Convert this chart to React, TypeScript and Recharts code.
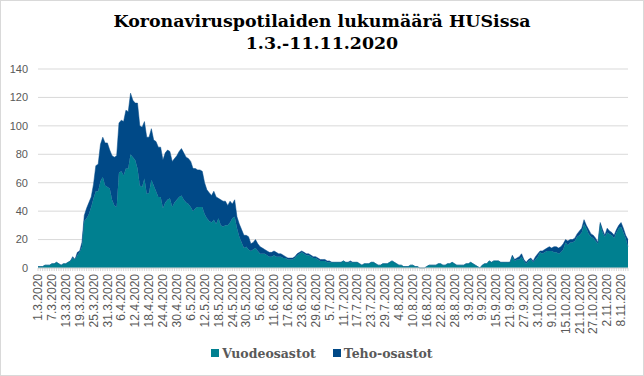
import { AreaChart, Area, XAxis, YAxis, CartesianGrid, Legend } from 'recharts'

// päivät 1.3.2020 - 11.11.2020
const dates: string[] = Array.from({ length: 256 }, (_, i) => {
  const d = new Date(2020, 2, 1 + i)
  return `${d.getDate()}.${d.getMonth() + 1}.2020`
})

const vuodeosastot = [
  1, 1, 1, 2, 2, 2, 3, 3, 4, 3,
  2, 3, 3, 4, 5, 7, 6, 9, 11, 15,
  33, 35, 38, 43, 49, 54, 54, 61, 64, 58,
  57, 56, 48, 44, 43, 67, 68, 65, 70, 70,
  80, 78, 76, 70, 58, 57, 63, 52, 53, 62,
  58, 54, 50, 50, 42, 46, 48, 49, 43, 46,
  48, 50, 51, 48, 46, 45, 43, 40, 42, 43,
  43, 43, 38, 35, 33, 32, 34, 31, 35, 30,
  29, 30, 30, 32, 35, 36, 28, 22, 18, 14,
  15, 13, 12, 13, 14, 12, 10, 10, 10, 9,
  8, 8, 9, 8, 8, 8, 7, 7, 6, 6,
  6, 7, 9, 10, 11, 10, 9, 9, 8, 7,
  7, 6, 5, 5, 5, 4, 4, 4, 4, 4,
  4, 4, 5, 4, 4, 4, 4, 4, 4, 3,
  2, 3, 3, 3, 4, 4, 3, 2, 2, 3,
  3, 3, 4, 5, 4, 3, 2, 2, 1, 1,
  1, 2, 2, 1, 1, 0, 0, 0, 1, 2,
  2, 2, 2, 3, 3, 2, 2, 3, 3, 4,
  3, 2, 2, 2, 2, 3, 3, 4, 3, 2,
  1, 0, 2, 3, 3, 5, 4, 5, 5, 5,
  4, 4, 4, 4, 4, 8, 5, 6, 6, 8,
  5, 3, 5, 6, 4, 6, 8, 11, 10, 11,
  12, 12, 12, 11, 11, 10, 11, 13, 18, 16,
  18, 18, 19, 22, 23, 25, 31, 28, 24, 22,
  21, 19, 17, 31, 25, 22, 25, 24, 23, 21,
  25, 28, 29, 25, 21, 15,
]

const tehoosastot = [
  0, 0, 0, 0, 0, 0, 0, 0, 0, 0,
  0, 0, 0, 0, 0, 1, 0, 2, 1, 3,
  4, 7, 8, 7, 10, 18, 19, 26, 28, 30,
  31, 27, 31, 34, 36, 35, 36, 38, 41, 40,
  43, 40, 40, 46, 42, 42, 40, 40, 39, 36,
  32, 35, 35, 35, 34, 35, 35, 33, 32, 31,
  31, 32, 33, 33, 32, 32, 32, 30, 28, 26,
  26, 25, 22, 20, 20, 19, 20, 19, 14, 18,
  18, 17, 14, 15, 10, 12, 8, 9, 9, 9,
  8, 9, 5, 5, 6, 5, 5, 4, 3, 3,
  3, 3, 3, 3, 2, 2, 2, 1, 1, 1,
  1, 1, 1, 1, 1, 1, 1, 1, 1, 1,
  1, 1, 1, 1, 1, 1, 1, 0, 0, 0,
  0, 0, 0, 0, 0, 1, 0, 0, 0, 0,
  0, 0, 0, 0, 0, 0, 0, 0, 0, 0,
  0, 0, 0, 0, 0, 0, 0, 0, 0, 0,
  0, 0, 0, 0, 0, 0, 0, 0, 0, 0,
  0, 0, 0, 0, 0, 0, 0, 0, 0, 0,
  0, 0, 0, 0, 0, 0, 0, 0, 0, 0,
  0, 0, 0, 0, 0, 0, 0, 0, 0, 0,
  0, 0, 0, 0, 0, 1, 1, 1, 2, 2,
  1, 1, 1, 1, 1, 2, 2, 1, 2, 2,
  2, 3, 2, 4, 4, 4, 4, 4, 2, 3,
  2, 2, 2, 2, 3, 3, 3, 2, 3, 2,
  2, 2, 1, 1, 2, 1, 3, 2, 2, 2,
  2, 2, 3, 3, 2, 5,
]

const yTicks = [0, 20, 40, 60, 80, 100, 120, 140]

const legendItems = [
  { color: '#008090', label: 'Vuodeosastot' },
  { color: '#004987', label: 'Teho-osastot' },
]

const data = dates.map((date, i) => ({
  date,
  vuodeosastot: vuodeosastot[i],
  tehoosastot: tehoosastot[i],
}))

// joka päivälle pieni tikki, joka kuudennelle päivälle teksti
function DayTick(props: any) {
  const { x, y, index, payload } = props
  return (
    <g>
      <line x1={x} x2={x} y1={y} y2={y + 3} stroke="#bfbfbf" strokeWidth={0.6} />
      {index % 6 === 0 && (
        <text
          x={x}
          y={y + 6}
          dy="0.35em"
          textAnchor="end"
          transform={`rotate(-90, ${x}, ${y + 6})`}
          fontSize={12}
          fontFamily="Liberation Sans"
          fill="#595959"
        >
          {payload.value}
        </text>
      )}
    </g>
  )
}

function LegendContent() {
  return (
    <div
      style={{
        height: 30,
        display: 'flex',
        justifyContent: 'center',
        alignItems: 'center',
        gap: 17,
        fontFamily: 'DejaVu Serif',
        fontWeight: 'bold',
        fontSize: 12.5,
        color: '#595959',
      }}
    >
      {legendItems.map(item => (
        <div key={item.label} style={{ display: 'flex', alignItems: 'center', gap: 3 }}>
          <div style={{ width: 8, height: 8, backgroundColor: item.color }} />
          <span>{item.label}</span>
        </div>
      ))}
    </div>
  )
}

export default function App() {
  return (
    <div style={{ position: 'absolute', left: 0, top: 0, width: 644, height: 376, background: '#fff' }}>
      <div
        style={{
          position: 'absolute',
          left: 0,
          top: 10,
          width: 644,
          textAlign: 'center',
          fontFamily: 'DejaVu Serif',
          fontWeight: 'bold',
          fontSize: 17.4,
          lineHeight: '22px',
          color: '#000',
        }}
      >
        Koronaviruspotilaiden lukumäärä HUSissa
        <br />
        1.3.-11.11.2020
      </div>
      <AreaChart
        width={644}
        height={376}
        data={data}
        margin={{ top: 69, right: 16, bottom: 8, left: 8 }}
        style={{ position: 'absolute', left: 0, top: 0 }}
      >
        <CartesianGrid vertical={false} stroke="#d9d9d9" />
        <XAxis
          dataKey="date"
          interval={0}
          height={70}
          tickSize={0}
          tickMargin={0}
          tickLine={false}
          axisLine={{ stroke: '#d9d9d9' }}
          tick={<DayTick />}
        />
        <YAxis
          domain={[0, 140]}
          ticks={yTicks}
          interval={0}
          width={30}
          tickSize={0}
          tickMargin={10}
          axisLine={false}
          tickLine={false}
          tick={{ fontSize: 11, fontFamily: 'Liberation Sans', fill: '#595959' }}
        />
        <Area
          type="linear"
          dataKey="vuodeosastot"
          name="Vuodeosastot"
          stackId="1"
          fill="#008090"
          fillOpacity={1}
          stroke="#008090"
          strokeWidth={0.5}
          isAnimationActive={false}
        />
        <Area
          type="linear"
          dataKey="tehoosastot"
          name="Teho-osastot"
          stackId="1"
          fill="#004987"
          fillOpacity={1}
          stroke="#004987"
          strokeWidth={0.5}
          isAnimationActive={false}
        />
        <Legend
          verticalAlign="bottom"
          content={<LegendContent />}
          wrapperStyle={{ left: 0, width: 644 }}
        />
      </AreaChart>
      <div
        style={{
          position: 'absolute',
          left: 0,
          top: 0,
          width: 644,
          height: 376,
          boxSizing: 'border-box',
          border: '1px solid #d9d9d9',
          pointerEvents: 'none',
        }}
      />
    </div>
  )
}
